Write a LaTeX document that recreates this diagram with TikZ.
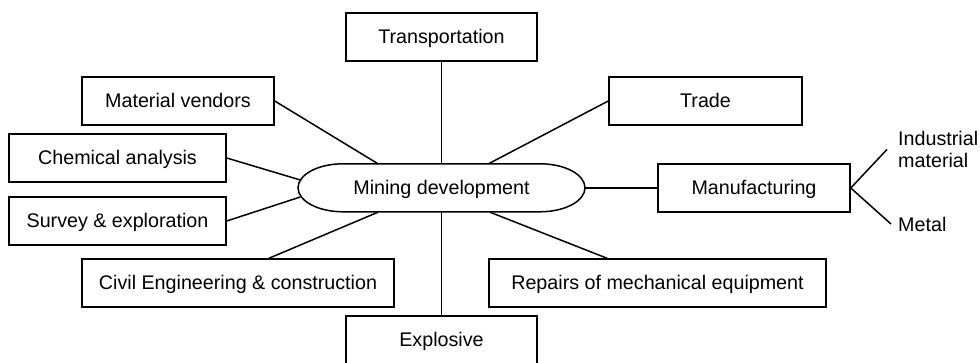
\documentclass[tikz,border=0pt]{standalone}
\usepackage{fontspec}
\setmainfont{Liberation Sans}
\usepackage{tikz}

\tikzstyle{block} = [rectangle, minimum height=48pt, inner sep=0pt, text height=14pt, text depth=0pt, text centered, draw=black, line width=1.5pt]
\tikzstyle{hub} = [rectangle, minimum width=287pt, minimum height=48pt, inner sep=0pt, text height=14pt, text depth=0pt, text centered]
\tikzstyle{leaf} = [inner sep=0pt, align=left]
\tikzstyle{link} = [line width=1.5pt]

\begin{document}
\begin{tikzpicture}[x=1pt, y=-1pt, font=\fontsize{19.7}{22}\selectfont]
\useasboundingbox (0,0) rectangle (980,363);

\node (mine) [hub] at (441.5,188) {Mining development};
\draw [link] (mine.north) ++(-98.5,0) arc[start angle=90, end angle=270, x radius=45pt, y radius=24pt] -- ++(197,0) arc[start angle=-90, end angle=90, x radius=45pt, y radius=24pt] -- cycle;

\node (trans) [block, minimum width=191pt] at (441.5,37) {Transportation};
\node (vend) [block, minimum width=192pt] at (178,101) {Material vendors};
\node (trade) [block, minimum width=193pt] at (705.5,101) {Trade};
\node (chem) [block, minimum width=217pt] at (117.5,158) {Chemical analysis};
\node (manu) [block, minimum width=192pt] at (754,188) {Manufacturing};
\node (surv) [block, minimum width=217pt] at (117.5,221) {Survey \& exploration};
\node (civil) [block, minimum width=312pt] at (238,283) {Civil Engineering \& construction};
\node (repair) [block, minimum width=337pt] at (657.5,283) {Repairs of mechanical equipment};
\node (expl) [block, minimum width=191pt] at (441.5,340) {Explosive};

\node (indus) [leaf, anchor=north west] at (898,131) {Industrial\\material};
\node (metal) [leaf, anchor=west] at (898,224) {Metal};

\draw [link] (trans) -- (mine);
\draw [link] (mine) -- (expl);
\draw [link] (mine) -- (manu);
\draw [link] (vend.east) -- ([xshift=-63.5pt]mine.north);
\draw [link] (trade.west) -- ([xshift=47pt]mine.north);
\draw [link] (chem.east) -- ([xshift=2.5pt, yshift=8pt]mine.west);
\draw [link] (surv.east) -- ([xshift=2.5pt, yshift=-9pt]mine.west);
\draw [link] ([xshift=31pt]civil.north) -- ([xshift=-63.5pt]mine.south);
\draw [link] ([xshift=48.5pt]mine.south) -- ([xshift=-50.5pt]repair.north);
\draw [link] (manu.east) -- ([xshift=-11pt]indus.west);
\draw [link] (manu.east) -- ([xshift=-7pt]metal.west);

\end{tikzpicture}
\end{document}
